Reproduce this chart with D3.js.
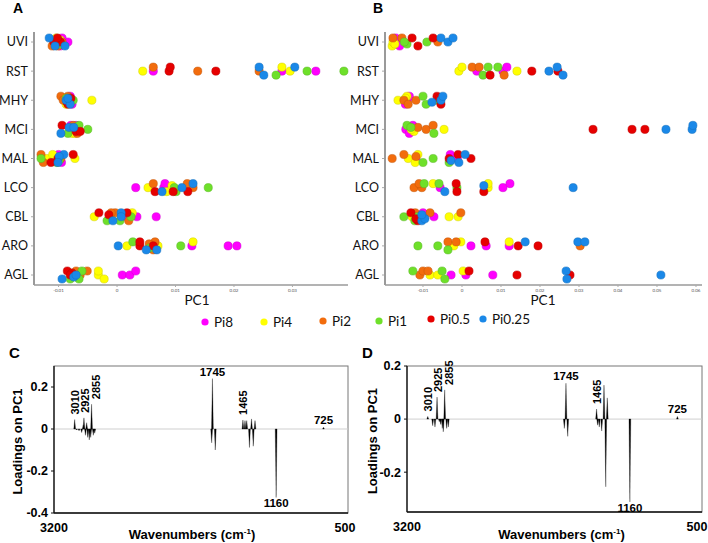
<!DOCTYPE html>
<html><head><meta charset="utf-8">
<script src="https://cdn.jsdelivr.net/npm/d3@7"></script>
<style>body{margin:0;background:#fff}</style>
</head><body>
<svg id="c" width="708" height="543" xmlns="http://www.w3.org/2000/svg"></svg>
<script>
// ---------------- DATA ----------------
const categories = ["UVI","RST","MHY","MCI","MAL","LCO","CBL","ARO","AGL"];
const seriesNames = ["Pi8","Pi4","Pi2","Pi1","Pi0.5","Pi0.25"];
const seriesColors = ["#ff00ff","#ffff00","#f26c0d","#6ee02a","#e60000","#1a88e8"];
const ticksA = [-0.01,0,0.01,0.02,0.03];
const ticksB = [-0.01,0,0.01,0.02,0.03,0.04,0.05,0.06];

// Panel A PC1 scores: rows = categories (UVI..AGL), three replicates each
const scoresA_Pi8 = [[-0.0084,-0.0094,-0.0097],[0.0062,0.0282,0.0340],[-0.0084,-0.0080,-0.0077],[-0.0074,-0.0079,-0.0070],[-0.0105,-0.0100,-0.0095],[0.0032,0.0080,0.0082],[0.0012,0.0034,0.0067],[0.0128,0.0190,0.0205],[0.0009,0.0022,0.0032]];
const scoresA_Pi4 = [[-0.0101,-0.0097,-0.0104],[0.0044,0.0282,0.0296],[-0.0043,-0.0087,-0.0080],[-0.0077,-0.0080,-0.0072],[-0.0072,-0.0120,-0.0110],[0.0053,0.0085,0.0094],[-0.0039,0.0026,-0.0010],[0.0017,0.0070,0.0130],[-0.0032,-0.0032,-0.0022]];
const scoresA_Pi2 = [[-0.0111,-0.0094,-0.0101],[0.0062,0.0138,0.0243],[-0.0096,-0.0092,-0.0084],[-0.0067,-0.0068,-0.0075],[-0.0130,-0.0126,-0.0096],[0.0062,0.0130,0.0120],[-0.0003,-0.0010,0.0020],[0.0065,0.0062,0.0055],[-0.0063,-0.0051,-0.0070]];
const scoresA_Pi1 = [[-0.0096,-0.0101,-0.0104],[0.0272,0.0325,0.0388],[-0.0075,-0.0080,-0.0087],[-0.0084,-0.0050,-0.0065],[-0.0130,-0.0103,-0.0099],[0.0101,0.0156,0.0098],[-0.0017,0.0024,0.0005],[0.0027,0.0056,0.0109],[-0.0080,-0.0060,-0.0065]];
const scoresA_Pi05 = [[-0.0108,-0.0097,-0.0102],[0.0089,0.0091,0.0169],[-0.0085,-0.0084,-0.0079],[-0.0094,-0.0070,-0.0063],[-0.0113,-0.0101,-0.0075],[0.0065,0.0096,0.0121],[-0.0031,-0.0014,0.0017],[0.0039,0.0039,0.0062],[-0.0085,-0.0077,-0.0080]];
const scoresA_Pi025 = [[-0.0116,-0.0106,-0.0089],[0.0243,0.0251,0.0304],[-0.0087,-0.0080,-0.0084],[-0.0096,-0.0082,-0.0074],[-0.0091,-0.0099,-0.0101],[0.0077,0.0111,0.0130],[-0.0007,0.0007,0.0007],[0.0002,0.0050,0.0068],[-0.0094,-0.0074,-0.0070]];

// Panel B PC1 scores
const scoresB_Pi8 = [[-0.0167,-0.0170,-0.0160],[0.0038,0.0105,0.0115],[-0.0140,-0.0135,-0.0145],[-0.0144,-0.0126,-0.0135],[-0.0012,-0.0118,-0.0030],[-0.0056,0.0105,0.0123],[-0.0103,-0.0072,-0.0100],[0.0023,0.0062,0.0121],[-0.0028,0.0010,0.0079]];
const scoresB_Pi4 = [[-0.0179,-0.0177,-0.0172],[-0.0008,0.0000,0.0141],[-0.0164,-0.0141,-0.0145],[-0.0123,-0.0046,-0.0130],[-0.0138,-0.0113,-0.0120],[-0.0074,0.0067,0.0067],[-0.0128,-0.0033,-0.0010],[-0.0021,-0.0003,0.0121],[-0.0082,-0.0062,0.0003]];
const scoresB_Pi2 = [[-0.0177,-0.0154,-0.0062],[0.0026,0.0044,0.0108],[-0.0149,-0.0138,-0.0118],[-0.0113,-0.0092,-0.0074],[-0.0179,-0.0149,-0.0118],[-0.0123,-0.0103,-0.0110],[-0.0082,-0.0003,-0.0120],[-0.0036,-0.0015,0.0303],[-0.0108,-0.0100,-0.0087]];
const scoresB_Pi1 = [[-0.0141,-0.0090,-0.0148],[0.0054,0.0067,0.0092],[-0.0100,-0.0092,-0.0062],[-0.0141,-0.0131,-0.0072],[-0.0100,-0.0074,-0.0033],[-0.0097,-0.0059,-0.0013],[-0.0149,-0.0121,-0.0115],[-0.0113,-0.0062,-0.0036],[-0.0126,-0.0051,-0.0044]];
const scoresB_Pi05 = [[-0.0128,-0.0113,-0.0074],[0.0072,0.0179,0.0246],[-0.0064,-0.0054,-0.0058],[0.0336,0.0436,0.0469],[-0.0033,-0.0010,0.0023],[-0.0015,-0.0013,0.0056],[-0.0131,-0.0113,-0.0118],[0.0059,0.0144,0.0195],[0.0018,0.0141,0.0277]];
const scoresB_Pi025 = [[-0.0054,-0.0036,-0.0023],[0.0223,0.0244,0.0259],[-0.0077,-0.0054,-0.0049],[0.0523,0.0590,0.0592],[-0.0028,-0.0008,0.0008],[-0.0044,0.0056,0.0285],[-0.0103,-0.0095,-0.0103],[0.0162,0.0297,0.0315],[0.0267,0.0269,0.0510]];

// Loadings spectra (wavenumber cm-1, loading on PC1)
const specC_wn  = [3010,2992,2970,2946,2931,2925,2911,2900,2890,2876,2863,2855,2839,2826,1752,1745,1719,1465,1446,1430,1405,1386,1370,1354,1160,725];
const specC_val = [0.045,-0.005,-0.008,-0.017,0.02,0.053,-0.03,0.03,-0.04,-0.052,-0.04,0.118,-0.03,-0.02,-0.066,0.24,-0.1,0.043,0.04,0.04,-0.088,0.048,-0.082,0.04,-0.326,0.008];
const specD_wn  = [3010,2965,2944,2925,2904,2892,2877,2868,2855,2837,2822,1760,1745,1729,1465,1455,1440,1418,1397,1381,1367,1160,725];
const specD_val = [0.01,-0.025,-0.03,0.083,-0.01,-0.02,-0.035,-0.048,0.11,-0.035,-0.03,-0.035,0.135,-0.065,0.038,-0.023,-0.03,-0.045,0.128,-0.255,0.08,-0.312,0.01];
const peakLabels = [3010,2925,2855,1745,1465,1160,725];
const peakLabelRotated = [true,true,true,false,true,false,false];
const ticksC = [0.2,0,-0.2,-0.4];
const ticksD = [0.2,0,-0.2];

// ---------------- DRAW ----------------
const svg = d3.select("#c");
const sFont = "Lato, 'Open Sans', sans-serif";
const bFont = "'Liberation Sans', Arial, sans-serif";

function drawScatter(cfg){
  const g = svg.append("g");
  const x = d3.scaleLinear().domain(cfg.domain).range(cfg.range);
  const y = d3.scalePoint().domain(categories).range([42,275]);
  const axisY = 285, x0 = cfg.range[0];
  g.append("line").attr("x1",x0).attr("x2",x0).attr("y1",32).attr("y2",axisY)
    .attr("stroke","#9a9a9a").attr("stroke-width",2);
  g.append("line").attr("x1",x0).attr("x2",cfg.range[1]).attr("y1",axisY).attr("y2",axisY)
    .attr("stroke","#9a9a9a").attr("stroke-width",1.5);
  cfg.ticks.forEach(t=>{
    g.append("line").attr("x1",x(t)).attr("x2",x(t)).attr("y1",axisY).attr("y2",axisY+2).attr("stroke","#aaa");
    g.append("text").attr("x",x(t)).attr("y",axisY+6.5).attr("text-anchor","middle")
      .attr("font-family",sFont).attr("font-size",4.5).attr("fill","#555").text(String(t));
  });
  categories.forEach(c=>{
    g.append("line").attr("x1",x0-3).attr("x2",x0-1).attr("y1",y(c)).attr("y2",y(c)).attr("stroke","#aaa");
    g.append("text").attr("x",x0-6).attr("y",y(c)).attr("dy","0.35em").attr("text-anchor","end")
      .attr("font-family",sFont).attr("font-size",12.5).attr("fill","#111").text(c);
  });
  g.append("text").attr("x",cfg.pcX).attr("y",305).attr("text-anchor","middle")
    .attr("font-family",sFont).attr("font-size",13.5).attr("fill","#111").text("PC1");
  g.append("text").attr("x",cfg.letterX).attr("y",13).attr("font-family",bFont)
    .attr("font-weight","bold").attr("font-size",14).text(cfg.letter);

  // points with a small vertical dodge
  const pts = [];
  cfg.data.forEach((rows,si)=>rows.forEach((reps,ci)=>reps.forEach(v=>pts.push({si,ci,v}))));
  categories.forEach((c,ci)=>{
    const placed = [];
    pts.filter(p=>p.ci===ci).forEach(p=>{
      p.px = x(p.v);
      const cands = [0,-4,4,-2,2];
      let best = 0, bestD = -1;
      for(const o of cands){
        let md = Infinity;
        placed.forEach(q=>{ md = Math.min(md, Math.hypot(q.px-p.px, q.off-o)); });
        if(md >= 7.5){ best = o; break; }
        if(md > bestD){ bestD = md; best = o; }
      }
      p.off = best; placed.push(p);
    });
  });
  g.selectAll("circle.pt").data(pts).join("circle").attr("class","pt")
    .attr("cx",d=>d.px).attr("cy",d=>y(categories[d.ci])+d.off).attr("r",4.1)
    .attr("fill",d=>seriesColors[d.si])
    .attr("stroke",d=>d3.color(seriesColors[d.si]).darker(0.6)).attr("stroke-width",0.5);
}

drawScatter({domain:[-0.0142,0.0395],range:[34,348],ticks:ticksA,pcX:197,letter:"A",letterX:13,
  data:[scoresA_Pi8,scoresA_Pi4,scoresA_Pi2,scoresA_Pi1,scoresA_Pi05,scoresA_Pi025]});
drawScatter({domain:[-0.01974,0.06154],range:[385,702],ticks:ticksB,pcX:543,letter:"B",letterX:373,
  data:[scoresB_Pi8,scoresB_Pi4,scoresB_Pi2,scoresB_Pi1,scoresB_Pi05,scoresB_Pi025]});

// legend
const legendX = [205,264,323,379,431,483];
const legendY = [322,322,321,321,319,319];
seriesNames.forEach((s,i)=>{
  svg.append("circle").attr("cx",legendX[i]).attr("cy",legendY[i]).attr("r",3.6).attr("fill",seriesColors[i]);
  svg.append("text").attr("x",legendX[i]+9).attr("y",legendY[i]).attr("dy","0.35em")
    .attr("font-family",sFont).attr("font-size",13.5).attr("fill","#111").text(s);
});

function drawSpectrum(cfg){
  const g = svg.append("g");
  const x = d3.scaleLinear().domain([3200,500]).range([cfg.L,cfg.R]);
  const y = d3.scaleLinear().domain(cfg.yDomain).range([cfg.B,cfg.T]);
  g.append("rect").attr("x",cfg.L).attr("y",cfg.T).attr("width",cfg.R-cfg.L).attr("height",cfg.B-cfg.T)
    .attr("fill","none").attr("stroke","#777").attr("stroke-width",1);
  g.append("line").attr("x1",cfg.L).attr("x2",cfg.R).attr("y1",y(0)).attr("y2",y(0)).attr("stroke","#cfcfcf").attr("stroke-width",1);
  g.append("line").attr("x1",cfg.L).attr("x2",cfg.L).attr("y1",cfg.T).attr("y2",cfg.B).attr("stroke","#111").attr("stroke-width",1.3);
  g.append("line").attr("x1",cfg.L).attr("x2",cfg.R).attr("y1",cfg.B).attr("y2",cfg.B).attr("stroke","#111").attr("stroke-width",1.3);
  cfg.ticks.forEach(t=>{
    g.append("line").attr("x1",cfg.L-3).attr("x2",cfg.L).attr("y1",y(t)).attr("y2",y(t)).attr("stroke","#111");
    g.append("text").attr("x",cfg.L-6).attr("y",y(t)).attr("dy","0.35em").attr("text-anchor","end")
      .attr("font-family",bFont).attr("font-weight","bold").attr("font-size",12.5).text(String(t));
  });
  [3200,500].forEach(w=>{
    g.append("text").attr("x",x(w)+(w===500?cfg.endShift:0)).attr("y",cfg.B+19).attr("text-anchor","middle")
      .attr("font-family",bFont).attr("font-weight","bold").attr("font-size",12.5).text(String(w));
  });
  const y0 = y(0), hw = 0.9;
  const pts = cfg.wn.map((w,i)=>({w,v:cfg.val[i]}));
  g.selectAll("path.sp").data(pts).join("path").attr("class","sp")
    .attr("d",d=>`M${x(d.w)-hw},${y0}L${x(d.w)},${y(d.v)}L${x(d.w)+hw},${y0}Z`)
    .attr("fill","#000").attr("stroke","#000").attr("stroke-width",0.3);
  // peak labels; rotated ones are pushed apart so they don't overlap
  let lastRotX = -Infinity;
  peakLabels.forEach((w,i)=>{
    const p = pts.find(d=>d.w===w);
    let px = x(w); const py = y(p.v);
    if(peakLabelRotated[i]){
      if(px < lastRotX + 10.5) px = lastRotX + 10.5;
      lastRotX = px;
      g.append("text").attr("transform",`translate(${px},${py-5}) rotate(-90)`).attr("dy","0.36em")
        .attr("font-family",bFont).attr("font-weight","bold").attr("font-size",11).text(String(w));
    } else {
      g.append("text").attr("x",px).attr("y",p.v<0?py+10:py-3).attr("text-anchor","middle")
        .attr("font-family",bFont).attr("font-weight","bold").attr("font-size",11.5).text(String(w));
    }
  });
  const xt = g.append("text").attr("x",(cfg.L+cfg.R)/2+cfg.titleShift).attr("y",539).attr("text-anchor","middle")
    .attr("font-family",bFont).attr("font-weight","bold").attr("font-size",13);
  xt.append("tspan").text("Wavenumbers (cm");
  xt.append("tspan").attr("dy",-5).attr("font-size",8).text("-1");
  xt.append("tspan").attr("dy",5).text(")");
  g.append("text").attr("transform",`translate(${cfg.yTitleX},${(cfg.T+cfg.B)/2+2}) rotate(-90)`)
    .attr("text-anchor","middle").attr("dy","0.35em")
    .attr("font-family",bFont).attr("font-weight","bold").attr("font-size",13).text("Loadings on PC1");
  g.append("text").attr("x",cfg.letterX).attr("y",358).attr("font-family",bFont)
    .attr("font-weight","bold").attr("font-size",15).text(cfg.letter);
}

drawSpectrum({L:54,R:348,T:366,B:513,yDomain:[-0.4,0.3],ticks:ticksC,wn:specC_wn,val:specC_val,
  yTitleX:17,letter:"C",letterX:9,titleShift:-9,endShift:-3});
drawSpectrum({L:407,R:702,T:366,B:512,yDomain:[-0.35,0.2],ticks:ticksD,wn:specD_wn,val:specD_val,
  yTitleX:372,letter:"D",letterX:362,titleShift:7,endShift:-5});
</script>
</body></html>
